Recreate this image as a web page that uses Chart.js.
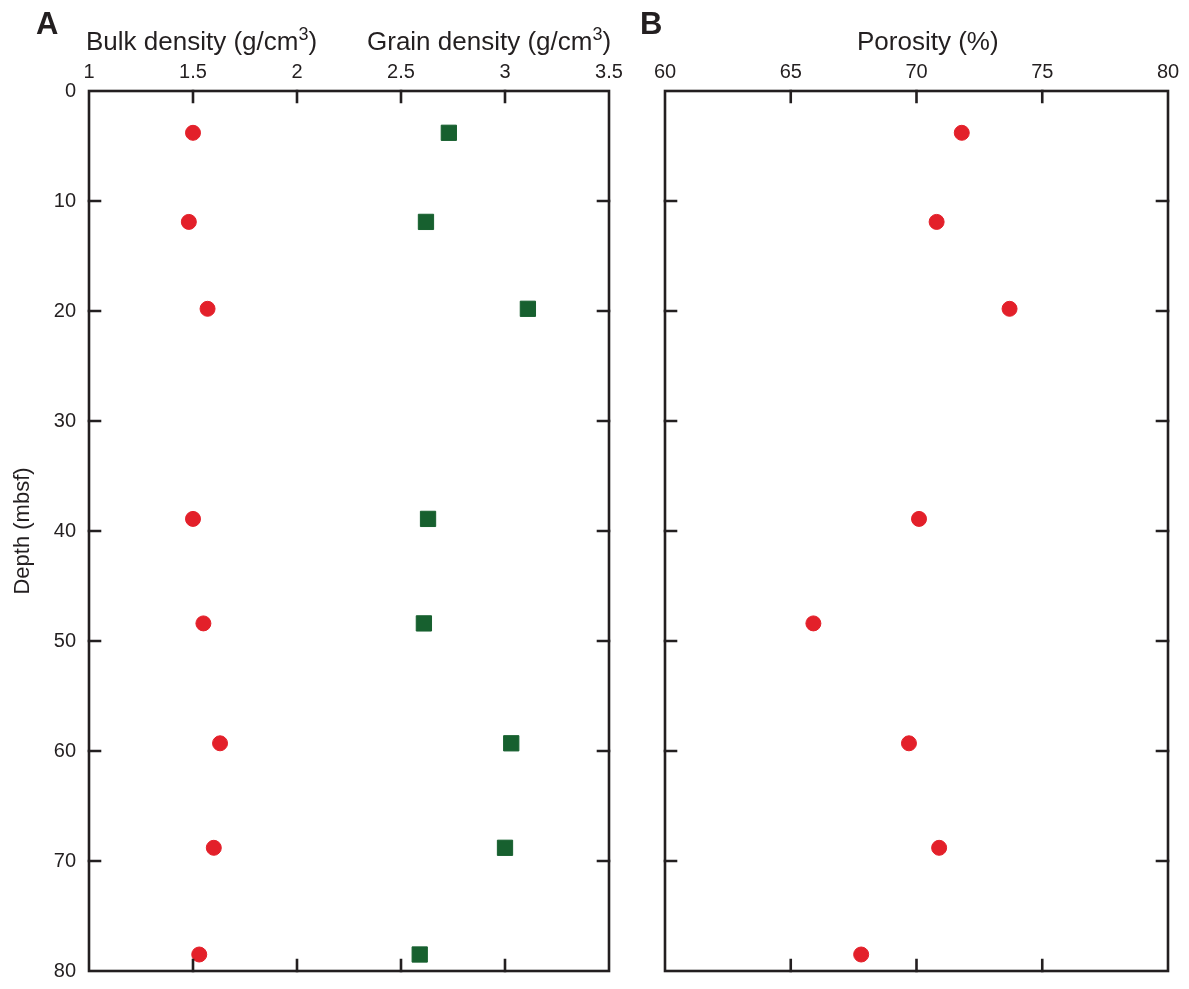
<!DOCTYPE html>
<html><head><meta charset="utf-8">
<script src="https://cdn.jsdelivr.net/npm/chart.js@4.4.1/dist/chart.umd.min.js"></script>
<style>
html,body{margin:0;padding:0;background:#fff;width:1189px;height:989px;overflow:hidden;font-family:"Liberation Sans",Arial,sans-serif;color:#231f20}
#wa{position:absolute;left:0;top:0;width:640px;height:989px}
#wb{position:absolute;left:640px;top:0;width:549px;height:989px}
.t{position:absolute;white-space:nowrap;font-size:26px;line-height:1}
.t sup{font-size:18px;vertical-align:0;position:relative;top:-10px}
.L{position:absolute;font-weight:bold;font-size:31px;line-height:1}
</style></head><body>
<div id="wa"><canvas id="ca"></canvas></div>
<div id="wb"><canvas id="cb"></canvas></div>
<div class="L" style="left:36px;top:8px">A</div>
<div class="L" style="left:640px;top:8px">B</div>
<div class="t" style="left:86px;top:28px">Bulk density (g/cm<sup>3</sup>)</div>
<div class="t" style="left:367px;top:28px">Grain density (g/cm<sup>3</sup>)</div>
<div class="t" style="left:857px;top:28px">Porosity (%)</div>
<script>
const depth = [3.8, 11.9, 19.8, 38.9, 48.4, 59.3, 68.8, 78.5];
const bulkDensity = [1.50, 1.48, 1.57, 1.50, 1.55, 1.63, 1.60, 1.53];
const grainDensity = [2.73, 2.62, 3.11, 2.63, 2.61, 3.03, 3.00, 2.59];
const porosity = [71.8, 70.8, 73.7, 70.1, 65.9, 69.7, 70.9, 67.8];
const densityTicks = [1, 1.5, 2, 2.5, 3, 3.5];
const porosityTicks = [60, 65, 70, 75, 80];
const depthTicks = [0, 10, 20, 30, 40, 50, 60, 70, 80];

const RED = '#e3202a', GREEN = '#17602f', INK = '#231f20';
const FONT = {family: '"Liberation Sans", Arial, sans-serif', size: 20};

const framePlugin = {
  id: 'frame',
  afterDraw(chart) {
    const {ctx, chartArea: a, scales: {x, y}} = chart;
    ctx.save();
    ctx.strokeStyle = INK; ctx.lineWidth = 2.6; ctx.lineCap = 'square';
    ctx.strokeRect(a.left, a.top, a.right - a.left, a.bottom - a.top);
    const L = 11;
    ctx.beginPath();
    x.ticks.forEach(t => {
      if (t.value === x.min || t.value === x.max) return;
      const px = x.getPixelForValue(t.value);
      ctx.moveTo(px, a.top); ctx.lineTo(px, a.top + L);
      ctx.moveTo(px, a.bottom); ctx.lineTo(px, a.bottom - L);
    });
    y.ticks.forEach(t => {
      if (t.value === y.min || t.value === y.max) return;
      const py = y.getPixelForValue(t.value);
      ctx.moveTo(a.left, py); ctx.lineTo(a.left + L, py);
      ctx.moveTo(a.right, py); ctx.lineTo(a.right - L, py);
    });
    ctx.stroke();
    ctx.restore();
  }
};

function pts(xs) { return xs.map((v, i) => ({x: v, y: depth[i]})); }
function fixedTicks(list) { return axis => { axis.ticks = list.map(v => ({value: v})); }; }

function makeChart(id, datasets, xmin, xmax, xt, showY, rightPad) {
  return new Chart(document.getElementById(id), {
    type: 'scatter',
    data: {datasets},
    options: {
      responsive: true, maintainAspectRatio: false, animation: false,
      layout: {padding: {left: 0, right: rightPad, top: 0, bottom: 18}},
      plugins: {legend: {display: false}, tooltip: {enabled: false}},
      scales: {
        x: {
          type: 'linear', position: 'top', min: xmin, max: xmax,
          afterBuildTicks: fixedTicks(xt),
          afterFit: s => { s.height = 91; s.paddingLeft = 0; s.paddingRight = 0; },
          grid: {display: false, drawTicks: false}, border: {display: false},
          ticks: {color: INK, font: FONT, padding: 7, maxRotation: 0, autoSkip: false,
                  callback: v => String(v)}
        },
        y: {
          type: 'linear', reverse: true, min: 0, max: 80,
          afterBuildTicks: fixedTicks(depthTicks),
          afterFit: s => { s.width = showY ? 89 : 25; s.paddingTop = 0; s.paddingBottom = 0; },
          grid: {display: false, drawTicks: false}, border: {display: false},
          ticks: {display: showY, color: INK, font: FONT, padding: 13, autoSkip: false},
          title: {display: showY, text: 'Depth (mbsf)', color: INK,
                  font: {family: FONT.family, size: 22}, padding: {top: 10, bottom: 4}}
        }
      }
    },
    plugins: [framePlugin]
  });
}

makeChart('ca', [
  {data: pts(bulkDensity), pointStyle: 'circle', pointRadius: 7.5, backgroundColor: RED, borderColor: RED, borderWidth: 1},
  {data: pts(grainDensity), pointStyle: 'rect', pointRadius: 10.8, backgroundColor: GREEN, borderColor: GREEN, borderWidth: 1}
], 1, 3.5, densityTicks, true, 31);

makeChart('cb', [
  {data: pts(porosity), pointStyle: 'circle', pointRadius: 7.5, backgroundColor: RED, borderColor: RED, borderWidth: 1}
], 60, 80, porosityTicks, false, 21);
</script>
</body></html>
